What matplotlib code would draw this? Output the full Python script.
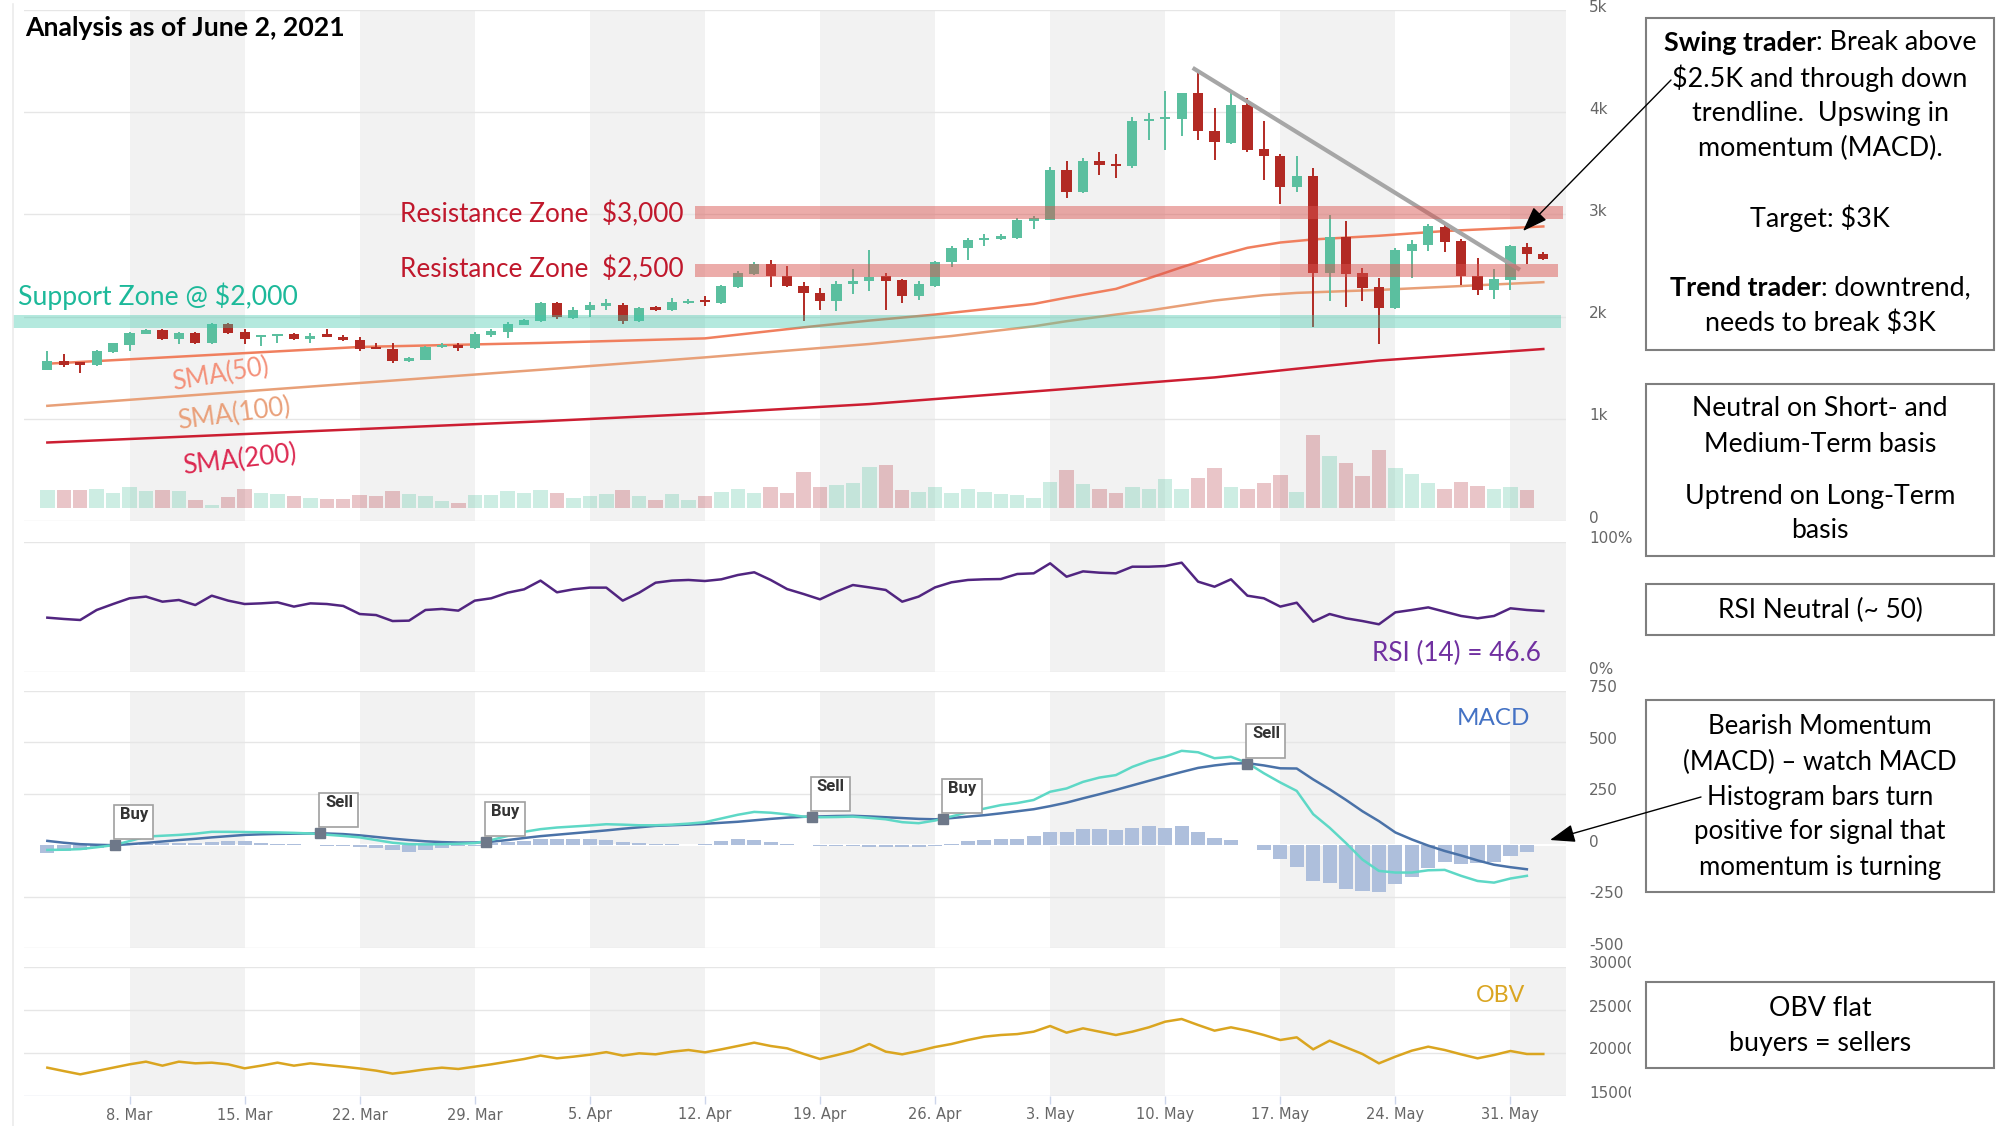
import matplotlib
matplotlib.use("Agg")
import matplotlib.pyplot as plt
import matplotlib.dates as mdates
from matplotlib.patches import Rectangle, FancyArrowPatch
from matplotlib.lines import Line2D
from matplotlib.transforms import IdentityTransform, Bbox, offset_copy
import numpy as np
import pandas as pd

W, H = 2002, 1126
FONT = ["Lato", "DejaVu Sans"]

# ---------------- data ----------------
dates = pd.date_range("2021-03-03", "2021-06-02", freq="D")

open_ = [1480, 1568, 1548, 1525, 1650, 1725, 1830, 1870, 1785, 1835,
         1745, 1925, 1850, 1800, 1810, 1830, 1785, 1812, 1805, 1775,
         1700, 1680, 1570, 1580, 1700, 1720, 1690, 1820, 1845, 1920,
         1954, 2130, 1990, 2060, 2108, 2117, 1953, 2090, 2065, 2130,
         2160, 2130, 2290, 2420, 2510, 2400, 2300, 2235, 2150, 2320,
         2345, 2400, 2355, 2200, 2300, 2530, 2670, 2745, 2755, 2765,
         2940, 2950, 3430, 3219, 3520, 3475, 3470, 3915, 3930, 3935,
         4183, 3820, 3700, 4075, 3640, 3575, 3264, 3372, 2428, 2778,
         2428, 2290, 2085, 2640, 2700, 2877, 2740, 2398, 2261, 2360,
         2680, 2615]
high = [1660, 1630, 1552, 1670, 1745, 1845, 1875, 1880, 1845, 1845,
        1935, 1938, 1880, 1820, 1830, 1840, 1840, 1875, 1820, 1805,
        1745, 1745, 1600, 1710, 1745, 1745, 1850, 1875, 1945, 1978,
        2140, 2140, 2090, 2140, 2170, 2135, 2095, 2100, 2185, 2170,
        2200, 2305, 2450, 2530, 2550, 2500, 2335, 2280, 2350, 2470,
        2650, 2430, 2365, 2350, 2545, 2690, 2765, 2810, 2810, 2960,
        2980, 3460, 3520, 3555, 3610, 3594, 3955, 3990, 4209, 4190,
        4379, 4045, 4183, 4135, 3915, 3590, 3575, 3450, 2993, 2940,
        2475, 2375, 2673, 2752, 2910, 2895, 2760, 2570, 2470, 2700,
        2725, 2630]
low = [1475, 1510, 1448, 1515, 1645, 1660, 1825, 1770, 1730, 1730,
       1730, 1830, 1735, 1715, 1740, 1775, 1740, 1800, 1760, 1660,
       1680, 1550, 1555, 1575, 1690, 1665, 1680, 1805, 1790, 1915,
       1950, 1975, 1980, 1995, 2060, 1930, 1945, 2058, 2058, 2120,
       2105, 2125, 2275, 2405, 2290, 2290, 1960, 2060, 2050, 2220,
       2250, 2060, 2130, 2160, 2290, 2490, 2550, 2690, 2750, 2755,
       2855, 2945, 3160, 3210, 3383, 3359, 3450, 3725, 3627, 3770,
       3725, 3530, 3690, 3610, 3333, 3105, 3220, 1895, 2150, 2091,
       2150, 1732, 2075, 2380, 2645, 2630, 2307, 2209, 2176, 2261,
       2510, 2555]
close = [1568, 1530, 1530, 1660, 1740, 1840, 1865, 1785, 1840, 1745,
         1925, 1835, 1780, 1814, 1820, 1785, 1805, 1803, 1775, 1680,
         1685, 1565, 1590, 1700, 1720, 1690, 1825, 1855, 1930, 1970,
         2130, 1993, 2065, 2117, 2120, 1953, 2085, 2065, 2140, 2155,
         2140, 2300, 2430, 2510, 2400, 2295, 2230, 2150, 2320, 2350,
         2390, 2350, 2200, 2320, 2530, 2670, 2750, 2760, 2785, 2945,
         2955, 3430, 3218, 3520, 3480, 3470, 3915, 3930, 3940, 4183,
         3817, 3706, 4075, 3633, 3570, 3264, 3372, 2428, 2778, 2412,
         2280, 2085, 2647, 2706, 2884, 2730, 2395, 2261, 2369, 2686,
         2611, 2568]
volume = [17.7, 17.7, 17.7, 19.3, 15.3, 21, 16.7, 17.7, 16.7, 8.3,
          3.3, 11, 19.3, 15.3, 14.3, 11.7, 10, 8.7, 8.7, 13.3,
          11.7, 16.7, 14.3, 11.7, 7, 5, 12.7, 12.7, 16.7, 15.3,
          17.7, 15, 10.3, 11.7, 14.3, 17.7, 11.7, 8.3, 14.3, 8.3,
          11.7, 16, 19.3, 15, 21, 15, 36, 21, 22.7, 25,
          41, 42.7, 17.7, 16, 21, 15, 19.3, 16, 14.3, 12.7,
          10, 26, 37.7, 23.7, 19.3, 15.3, 21, 19.3, 28.7, 19.3,
          30.3, 40.3, 21, 19.3, 25, 32.7, 16, 72.7, 52, 45,
          31.7, 57.7, 40, 34.3, 25, 19.3, 26, 22.3, 19.3, 21,
          17.7, 0]

sma50_day = [0, 19, 30, 40, 46, 50, 54, 60, 62, 65, 67, 69, 71, 73, 75, 77, 81, 85, 91]
sma50 = [1539, 1703, 1742, 1787, 1895, 1961, 2020, 2124, 2185, 2271, 2375, 2483,
         2585, 2673, 2725, 2755, 2791, 2837, 2882]
sma100_day = [0, 30, 40, 50, 55, 60, 62, 65, 67, 71, 74, 76, 81, 91]
sma100 = [1127, 1480, 1601, 1732, 1810, 1905, 1955, 2020, 2059, 2157, 2210, 2232, 2261, 2337]
sma200_day = [0, 30, 40, 50, 61, 71, 76, 81, 91]
sma200 = [768, 975, 1052, 1144, 1280, 1405, 1490, 1570, 1683]

trend_day = [69.67, 89.58]
trend_val = [4434, 2458]

zone_lo = [1892, 2392, 2958]
zone_hi = [2016, 2510, 3082]
zone_start = [-2.09, 39.4, 39.4]
zone_end = [92.1, 91.9, 92.2]

rsi = [41.8, 40.8, 40.0, 47.7, 52.3, 56.7, 58.0, 54.1, 55.4, 51.5,
       58.7, 54.9, 52.3, 52.8, 53.6, 50.3, 52.8, 52.3, 50.8, 44.6,
       43.8, 39.2, 39.5, 47.7, 48.5, 47.2, 54.9, 56.7, 61.0, 63.6,
       70.3, 61.3, 63.6, 64.9, 64.9, 54.9, 61.0, 68.7, 70.3, 70.8,
       70.0, 71.3, 74.6, 76.7, 70.8, 63.8, 60.0, 55.9, 61.8, 66.9,
       65.1, 63.1, 54.1, 58.0, 65.1, 69.0, 70.8, 71.3, 71.5, 75.4,
       75.9, 83.6, 73.3, 77.4, 76.4, 75.9, 81.0, 81.0, 81.5, 84.1,
       69.5, 65.6, 71.3, 58.7, 56.7, 50.3, 53.3, 38.7, 44.6, 41.3,
       39.2, 36.7, 45.9, 47.7, 49.7, 46.4, 43.1, 41.3, 43.1, 49.0,
       47.7, 46.9]

macd = [-23, -22, -19, -10, 0, 20, 42, 46, 50, 56,
        65, 65, 64, 63, 62, 60, 57, 51, 45, 38,
        25, 12, 5, 4, 5, 7, 10, 25, 45, 65,
        78, 86, 91, 96, 102, 100, 97, 97, 100, 105,
        112, 130, 148, 162, 158, 150, 139, 136, 137, 139,
        133, 126, 112, 107, 120, 140, 160, 178, 195, 205,
        220, 260, 276, 308, 329, 341, 381, 410, 431, 459,
        452, 423, 430, 400, 350, 305, 264, 151, 85, 10,
        -70, -125, -133, -133, -122, -120, -149, -174, -182, -162,
        -149]
signal = [21, 12, 5, 2, 0, 5, 11, 18, 25, 31,
          38, 44, 50, 53, 55, 56, 57, 57, 54, 48,
          40, 32, 25, 19, 15, 13, 13, 17, 25, 35,
          44, 51, 58, 65, 72, 80, 87, 94, 97, 100,
          104, 109, 114, 121, 128, 134, 138, 140, 142, 143,
          140, 136, 132, 128, 126, 132, 139, 146, 155, 165,
          175, 190, 207, 228, 248, 269, 291, 313, 335, 356,
          376, 388, 397, 399, 388, 374, 373, 320, 272, 220,
          165, 117, 62, 28, -2, -28, -50, -74, -95, -107,
          -117]
hist = [-36, -28, -23, -16, -3, 6, 8, 10, 10, 13,
        16, 21, 21, 13, 8, 6, 3, -3, -6, -11,
        -16, -23, -32, -23, -13, -6, -3, 10, 16, 21,
        29, 32, 32, 32, 26, 16, 10, 5, 5, 3,
        8, 18, 32, 24, 16, 8, 3, -3, -6, -6,
        -8, -11, -11, -8, -2, 8, 21, 26, 29, 32,
        45, 65, 65, 81, 81, 73, 86, 94, 86, 94,
        62, 34, 26, 0, -23, -65, -104, -174, -185, -211,
        -224, -230, -191, -157, -113, -84, -92, -89, -84, -54,
        -32]

flag_day = [4.1, 16.6, 26.7, 46.5, 54.5, 73.0]
flag_val = [0, 57, 15, 136, 126, 396]
flag_txt = ["Buy", "Sell", "Buy", "Sell", "Buy", "Sell"]

obv = [18295, 17900, 17519, 17907, 18295, 18682, 18992, 18527, 18992, 18800,
       18876, 18682, 18217, 18527, 18876, 18527, 18798, 18600, 18411, 18200,
       17950, 17600, 17830, 18100, 18295, 18140, 18411, 18682, 18990, 19300,
       19700, 19380, 19574, 19800, 20100, 19700, 19961, 19845, 20155, 20349,
       20078, 20426, 20814, 21202, 20814, 20543, 19900, 19302, 19750, 20233,
       21047, 20155, 19845, 20233, 20700, 21047, 21512, 21899, 22093, 22200,
       22481, 23140, 22364, 22868, 22481, 22093, 22481, 22984, 23643, 23953,
       23256, 22597, 22984, 22597, 22093, 21512, 21822, 20426, 21434, 20659,
       19884, 18798, 19574, 20271, 20736, 20349, 19845, 19380, 19767, 20233,
       19884, 19884]

price_ticks = [0, 1000, 2000, 3000, 4000, 5000]
price_labels = ["0", "1k", "2k", "3k", "4k", "5k"]
rsi_ticks = [0, 100]
rsi_labels = ["0%", "100%"]
macd_ticks = [-500, -250, 0, 250, 500, 750]
macd_labels = ["-500", "-250", "0", "250", "500", "750"]
obv_ticks = [15000, 20000, 25000, 30000]
obv_labels = ["15000", "20000", "25000", "30000"]

# ---------------- figure ----------------
fig = plt.figure(figsize=(W / 100, H / 100), dpi=100)
fig.patch.set_facecolor("white")
renderer = fig.canvas.get_renderer()

x = mdates.date2num(dates)
x0 = x[0]
xlim = (x0 - 1.42, x0 + 92.38)
shade = mdates.date2num(pd.date_range("2021-03-08", "2021-05-31", freq="14D"))
mondays = pd.date_range("2021-03-08", "2021-05-31", freq="7D")

GRID = "#e6e6e6"
GREEN, RED = "#5bbf9f", "#b22a24"


def panel(top, bottom):
    ax = fig.add_axes([24 / W, 1 - bottom / H, 1542 / W, (bottom - top) / H])
    ax.set_axis_off()
    for s in shade:
        ax.axvspan(s, s + 7, color="#f2f2f2", lw=0, zorder=0)
    return ax


def ylabels(ax, ticks, labels, clip=None):
    tr = offset_copy(ax.get_yaxis_transform(), fig=fig, x=0, y=3, units="dots")
    for v, lab in zip(ticks, labels):
        t = fig.text((1589 - 24) / 1542, v, lab, transform=tr, ha="left", va="center",
                     fontsize=11, color="#666666")
        if clip is not None:
            t.set_clip_on(True)
            t.set_clip_box(clip)


ax_p = panel(10, 521)
ax_r = panel(542, 672)
ax_m = panel(691, 948)
ax_o = panel(967, 1096)

# ---- price panel ----
for v in price_ticks:
    ax_p.axhline(v, color=GRID, lw=1, zorder=1)
ax_p.plot(x0 + np.array(sma50_day), sma50, color="#f07f5e", lw=1.8, zorder=3)
ax_p.plot(x0 + np.array(sma100_day), sma100, color="#e8a078", lw=1.8, zorder=3)
ax_p.plot(x0 + np.array(sma200_day), sma200, color="#cc1e32", lw=1.8, zorder=3)

o = np.array(open_); c = np.array(close)
cols = [GREEN if ci >= oi else RED for oi, ci in zip(o, c)]
ax_p.vlines(x, low, high, colors=cols, lw=1.4, zorder=4)
ax_p.bar(x, np.maximum(np.abs(c - o), 22), bottom=np.minimum(o, c), width=0.62,
         color=cols, zorder=4)
ax_p.plot(x0 + np.array(trend_day), trend_val, color="#a6a6a6", lw=3,
          solid_capstyle="butt", zorder=5)

zone_colors = ["#3cc7aa", "#d9534f", "#d9534f"]
zone_alpha = [0.38, 0.48, 0.48]
for lo, hi, s, e, zc, za in zip(zone_lo, zone_hi, zone_start, zone_end, zone_colors, zone_alpha):
    ax_p.add_patch(Rectangle((x0 + s, lo), e - s, hi - lo, fc=zc, alpha=za, lw=0,
                             zorder=6, clip_on=False))
ax_p.set_xlim(*xlim)
ax_p.set_ylim(0, 5000)
ylabels(ax_p, price_ticks, price_labels)

ax_v = ax_p.twinx()
ax_v.set_axis_off()
vcols = ["#5cc4a4" if ci >= oi else "#b8424a" for oi, ci in zip(o, c)]
ax_v.bar(x, volume, width=0.88, color=vcols, alpha=0.3, zorder=2)
ax_v.set_xlim(*xlim)
ax_v.set_ylim(-13, 498)

# ---- RSI panel ----
for v in rsi_ticks:
    ax_r.axhline(v, color=GRID, lw=1, zorder=1)
ax_r.plot(x, rsi, color="#512580", lw=1.8, zorder=3)
ax_r.set_xlim(*xlim)
ax_r.set_ylim(0, 100)
ylabels(ax_r, rsi_ticks, rsi_labels)

# ---- MACD panel ----
for v in macd_ticks:
    ax_m.axhline(v, color="white" if v == 0 else GRID, lw=1.5 if v == 0 else 1, zorder=1)
ax_m.bar(x[:len(hist)], hist, width=0.86, color="#aebfdc", zorder=2)
ax_m.plot(x[:len(signal)], signal, color="#4a72a8", lw=1.8, zorder=3)
ax_m.plot(x[:len(macd)], macd, color="#5ed8c6", lw=1.8, zorder=4)
ax_m.plot(x0 + np.array(flag_day), flag_val, ls="none", marker="s", ms=7,
          color="#6e7889", zorder=6)
ax_m.set_xlim(*xlim)
ax_m.set_ylim(-500, 750)
ylabels(ax_m, macd_ticks, macd_labels)

# ---- OBV panel ----
for v in obv_ticks:
    ax_o.axhline(v, color="#d5dbe6" if v == 15000 else GRID, lw=1, zorder=1)
ax_o.plot(x, obv, color="#daa520", lw=1.8, zorder=3)
ax_o.set_xlim(*xlim)
ax_o.set_ylim(15000, 30000)
ylabels(ax_o, obv_ticks, obv_labels, clip=Bbox.from_extents(0, 0, 1631, H))
md = mdates.date2num(mondays)
ax_o.vlines(md, -0.06, 0, transform=ax_o.get_xaxis_transform(), colors="#ccd6eb",
            lw=1, clip_on=False)
for m, d in zip(md, mondays):
    fig.text(m, -19 / 129, f"{d.day}. {d.strftime('%b')}", transform=ax_o.get_xaxis_transform(),
             ha="center", va="center", fontsize=10.5, color="#666666")

# faint left border of the chart container
fig.add_artist(Line2D([13 / W, 13 / W], [0, 1 - 4 / H], color="#ebebeb", lw=1.2))

# ---- Buy / Sell flags ----
for d, v, s in zip(flag_day, flag_val, flag_txt):
    px, py = ax_m.transData.transform((x0 + d, v))
    t = fig.text(px + 5, py + 38, s, transform=IdentityTransform(), ha="left", va="top",
                 fontsize=12, fontweight="bold", family=["Roboto", "DejaVu Sans"],
                 color="#333333", zorder=8)
    tw = t.get_window_extent(renderer).width
    fig.add_artist(Rectangle((px - 1, py + 6), tw + 11, 34, transform=IdentityTransform(),
                             fc="white", ec="#a0a0a0", lw=1.2, zorder=7))


# ---------------- annotation text ----------------
def fitted(xp, yp, s, width, ha="left", va="baseline", rotation=0, **kw):
    t = fig.text(xp / W, 1 - yp / H, s, fontsize=20, ha=ha, va=va, family=FONT,
                 parse_math=False, **kw)
    t.set_fontsize(20 * width / t.get_window_extent(renderer).width)
    if rotation:
        t.set_rotation(rotation)
        t.set_rotation_mode("anchor")
    return t


fitted(25.5, 35.5, "Analysis as of June 2, 2021", 319, fontweight="bold", color="black")
fitted(399.5, 222, "Resistance Zone  $3,000", 283, color="#c0182c")
fitted(399.5, 277, "Resistance Zone  $2,500", 283, color="#c0182c")
fitted(18, 304.5, "Support Zone @ $2,000", 280, color="#1db99a")
fitted(221, 375, "SMA(50)", 98, ha="center", va="center", rotation=9.5, color="#f4917a")
fitted(234, 414, "SMA(100)", 114, ha="center", va="center", rotation=7.5, color="#e9a07a")
fitted(240, 460, "SMA(200)", 114, ha="center", va="center", rotation=6.5, color="#dc2850")
fitted(1541, 661, "RSI (14) = 46.6", 169, ha="right", color="#7030a0")
fitted(1530, 725, "MACD", 73, ha="right", color="#4472c4")
fitted(1525, 1001.5, "OBV", 49, ha="right", color="#daa520")

# ---------------- right-hand comment boxes ----------------
boxes = [
    (18, 350, 0, 313, [
        (43, [("Swing trader", "bold"), (": Break above", "normal")]),
        (78, [("$2.5K and through down", "normal")]),
        (113, [("trendline.  Upswing in", "normal")]),
        (148, [("momentum (MACD).", "normal")]),
        (218, [("Target: $3K", "normal")]),
        (288, [("Trend trader", "bold"), (": downtrend,", "normal")]),
        (323, [("needs to break $3K", "normal")]),
    ]),
    (384, 556, 0, 255, [
        (408, [("Neutral on Short- and", "normal")]),
        (444, [("Medium-Term basis", "normal")]),
        (496, [("Uptrend on Long-Term", "normal")]),
        (531, [("basis", "normal")]),
    ]),
    (584, 635, 0, 205, [(610, [("RSI Neutral (~ 50)", "normal")])]),
    (700, 892, 1, 274, [
        (727, [("Bearish Momentum", "normal")]),
        (762, [("(MACD) \u2013 watch MACD", "normal")]),
        (797, [("Histogram bars turn", "normal")]),
        (832, [("positive for signal that", "normal")]),
        (867, [("momentum is turning", "normal")]),
    ]),
    (982, 1068, 1, 183, [
        (1009, [("OBV flat", "normal")]),
        (1044, [("buyers = sellers", "normal")]),
    ]),
]
BX0, BX1 = 1646, 1994
cx = (BX0 + BX1) / 2


def draw_line(yp, parts, size, measure_only=False):
    texts = []
    total = 0
    for s, wgt in parts:
        t = fig.text(0, 1 - yp / H, s, fontsize=size, fontweight=wgt, family=FONT,
                     ha="left", va="center", color="black", parse_math=False)
        w = t.get_window_extent(renderer).width
        texts.append((t, w))
        total += w
    if measure_only:
        for t, _ in texts:
            t.remove()
        return total
    xp = cx - total / 2
    for t, w in texts:
        t.set_x(xp / W)
        xp += w
    return total


for top, bottom, ref, ref_w, lines in boxes:
    fig.add_artist(Rectangle((BX0 / W, 1 - bottom / H), (BX1 - BX0) / W, (bottom - top) / H,
                             transform=fig.transFigure, fill=False, ec="#7f7f7f", lw=1.5))
    w20 = draw_line(lines[ref][0], lines[ref][1], 20, measure_only=True)
    size = 20 * ref_w / w20
    for yp, parts in lines:
        draw_line(yp, parts, size)

# ---------------- arrows ----------------
for (tx, ty), (hx, hy) in [((1671, 80), (1523, 231)), ((1701, 797), (1550, 840))]:
    fig.add_artist(FancyArrowPatch((tx, H - ty), (hx, H - hy), transform=IdentityTransform(),
                                   arrowstyle="-|>,head_length=0.55,head_width=0.2",
                                   mutation_scale=28, color="black", lw=1,
                                   shrinkA=0, shrinkB=0, zorder=9))

fig.savefig("out.png", dpi=100, facecolor="white")
